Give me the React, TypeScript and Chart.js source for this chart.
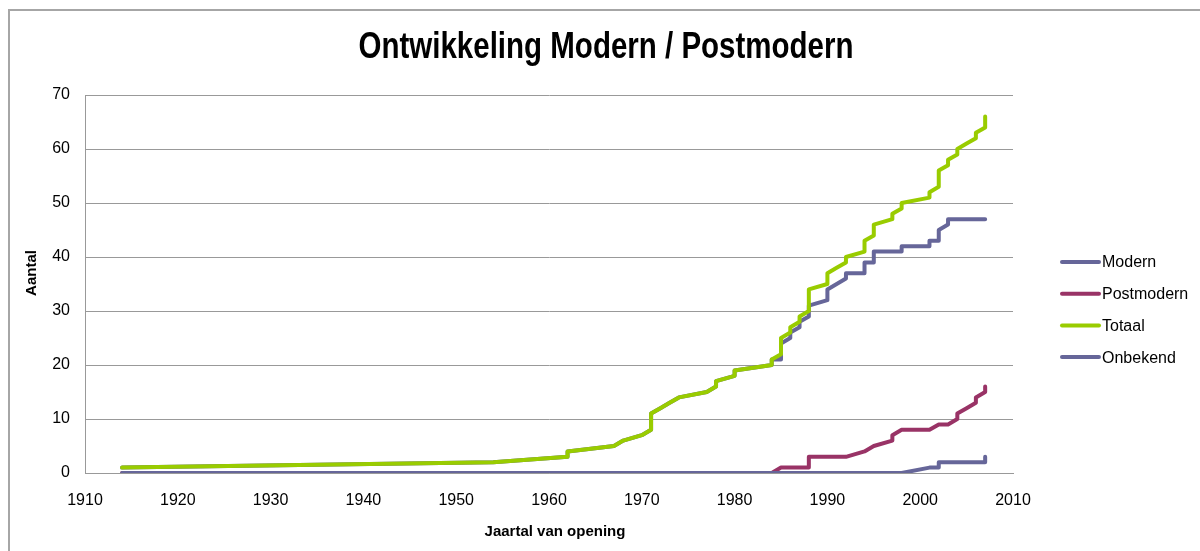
import React, { useEffect, useRef } from "react";
import { Chart, registerables } from "chart.js";

Chart.register(...registerables);

// ---- Text ----
const chartTitle = "Ontwikkeling Modern / Postmodern";
const xAxisTitle = "Jaartal van opening";
const yAxisTitle = "Aantal";

// ---- Series ----
const seriesNames = ["Modern", "Postmodern", "Totaal", "Onbekend"];
const seriesColors = ["#666699", "#993366", "#99CC00", "#666699"];

// Year of opening of each building (sorted), one entry per building
const openingYears = [
  1914, 1954, 1962, 1962, 1967, 1968, 1970, 1971, 1971, 1971, 1971, 1972, 1973,
  1974, 1977, 1978, 1978, 1980, 1980, 1984, 1984, 1985, 1985, 1985, 1985, 1986,
  1986, 1987, 1987, 1988, 1988, 1988, 1988, 1988, 1990, 1990, 1990, 1991, 1992,
  1992, 1994, 1994, 1994, 1995, 1995, 1995, 1997, 1997, 1998, 1998, 2001, 2001,
  2002, 2002, 2002, 2002, 2003, 2003, 2004, 2004, 2005, 2006, 2006, 2007, 2007,
  2007,
];

// Cumulative counts per category at each entry
const modern = [
  1, 2, 3, 4, 5, 6, 7, 8, 9, 10, 11, 12, 13, 14, 15, 16, 17, 18, 19, 20, 21, 21,
  22, 23, 24, 25, 26, 27, 28, 29, 30, 31, 31, 31, 32, 33, 34, 35, 36, 37, 37, 38,
  39, 39, 40, 41, 41, 41, 41, 42, 42, 43, 43, 43, 44, 45, 46, 47, 47, 47, 47, 47,
  47, 47, 47, 47,
];
const postmodern = [
  0, 0, 0, 0, 0, 0, 0, 0, 0, 0, 0, 0, 0, 0, 0, 0, 0, 0, 0, 0, 0, 1, 1, 1, 1, 1,
  1, 1, 1, 1, 1, 1, 2, 3, 3, 3, 3, 3, 3, 3, 4, 4, 4, 5, 5, 5, 6, 7, 8, 8, 8, 8, 9,
  9, 9, 9, 9, 9, 10, 11, 12, 13, 14, 15, 16, 16,
];
const totaal = [
  1, 2, 3, 4, 5, 6, 7, 8, 9, 10, 11, 12, 13, 14, 15, 16, 17, 18, 19, 20, 21, 22,
  23, 24, 25, 26, 27, 28, 29, 30, 31, 32, 33, 34, 35, 36, 37, 38, 39, 40, 41, 42,
  43, 44, 45, 46, 47, 48, 49, 50, 51, 52, 53, 54, 55, 56, 57, 58, 59, 60, 61, 62,
  63, 64, 65, 66,
];
const onbekend = [
  0, 0, 0, 0, 0, 0, 0, 0, 0, 0, 0, 0, 0, 0, 0, 0, 0, 0, 0, 0, 0, 0, 0, 0, 0, 0,
  0, 0, 0, 0, 0, 0, 0, 0, 0, 0, 0, 0, 0, 0, 0, 0, 0, 0, 0, 0, 0, 0, 0, 0, 1, 1, 1,
  2, 2, 2, 2, 2, 2, 2, 2, 2, 2, 2, 2, 3,
];

// ---- Axis ticks ----
const xTickValues = [1910, 1920, 1930, 1940, 1950, 1960, 1970, 1980, 1990, 2000, 2010];
const yTickValues = [0, 10, 20, 30, 40, 50, 60, 70];

const FONT = '"Liberation Sans", Arial, sans-serif';

const decorPlugin = {
  id: "decor",
  beforeDraw(chart: any) {
    const ctx = chart.ctx as CanvasRenderingContext2D;
    ctx.save();
    ctx.fillStyle = "#a6a6a6";
    ctx.fillRect(8, 9, 1192, 2);
    ctx.fillRect(8, 9, 2, 542);
    ctx.restore();
  },
  afterDraw(chart: any) {
    const ctx = chart.ctx as CanvasRenderingContext2D;
    // Title (condensed bold)
    ctx.save();
    ctx.font = `bold 36px ${FONT}`;
    const w = ctx.measureText(chartTitle).width;
    ctx.translate(606, 58);
    ctx.scale(495 / w, 1);
    ctx.fillStyle = "#000";
    ctx.textAlign = "center";
    ctx.textBaseline = "alphabetic";
    ctx.fillText(chartTitle, 0, 0);
    ctx.restore();

    // Y axis title
    ctx.save();
    ctx.font = `bold 15px ${FONT}`;
    ctx.fillStyle = "#000";
    ctx.translate(32, 273);
    ctx.rotate(-Math.PI / 2);
    ctx.textAlign = "center";
    ctx.textBaseline = "middle";
    ctx.fillText(yAxisTitle, 0, 0);
    ctx.restore();

    // X axis title
    ctx.save();
    ctx.font = `bold 15px ${FONT}`;
    ctx.fillStyle = "#000";
    ctx.textAlign = "center";
    ctx.textBaseline = "middle";
    ctx.fillText(xAxisTitle, 555, 532);
    ctx.restore();

    // Legend
    ctx.save();
    chart.data.datasets.forEach((ds: any, i: number) => {
      const y = 262 + i * 31.7;
      ctx.strokeStyle = ds.borderColor;
      ctx.lineWidth = 4;
      ctx.lineCap = "round";
      ctx.beginPath();
      ctx.moveTo(1062, y);
      ctx.lineTo(1099, y);
      ctx.stroke();
      ctx.fillStyle = "#000";
      ctx.font = `16px ${FONT}`;
      ctx.textAlign = "left";
      ctx.textBaseline = "middle";
      ctx.fillText(ds.label, 1102, y + 1);
    });
    ctx.restore();
  },
};

export default function App() {
  const canvasRef = useRef<HTMLCanvasElement | null>(null);

  useEffect(() => {
    if (!canvasRef.current) return;
    const seriesValues = [modern, postmodern, totaal, onbekend];
    const drawOrder = [4, 3, 2, 1];
    const datasets = seriesNames.map((name, si) => ({
      label: name,
      data: openingYears.map((yr, i) => ({ x: yr, y: seriesValues[si][i] })),
      borderColor: seriesColors[si],
      backgroundColor: seriesColors[si],
      borderWidth: 4,
      pointRadius: 0,
      pointHoverRadius: 0,
      tension: 0,
      fill: false,
      borderCapStyle: "round" as const,
      borderJoinStyle: "round" as const,
      order: drawOrder[si],
    }));

    const chart = new Chart(canvasRef.current, {
      type: "line",
      data: { datasets },
      options: {
        responsive: false,
        animation: false,
        events: [],
        layout: { padding: { left: 0, right: 187, top: 95, bottom: 0 } },
        plugins: {
          legend: { display: false },
          title: { display: false },
          tooltip: { enabled: false },
        },
        scales: {
          x: {
            type: "linear",
            min: xTickValues[0],
            max: xTickValues[xTickValues.length - 1],
            afterBuildTicks: (scale: any) => {
              scale.ticks = xTickValues.map((v) => ({ value: v }));
            },
            ticks: {
              color: "#000",
              padding: 18,
              maxRotation: 0,
              autoSkip: false,
              font: { family: FONT, size: 16 },
              callback: (v: any) => String(v),
            },
            grid: { display: false, drawTicks: false },
            border: { display: true, color: "#999999", width: 1 },
            afterFit: (scale: any) => {
              scale.height = 78;
            },
          },
          y: {
            type: "linear",
            min: yTickValues[0],
            max: yTickValues[yTickValues.length - 1],
            afterBuildTicks: (scale: any) => {
              scale.ticks = yTickValues.map((v) => ({ value: v }));
            },
            ticks: {
              color: "#000",
              padding: 15,
              font: { family: FONT, size: 16 },
              callback: (v: any) => String(v),
            },
            grid: { color: "#999999", lineWidth: 1, drawTicks: false },
            border: { display: true, color: "#999999", width: 1 },
            afterFit: (scale: any) => {
              scale.width = 85;
            },
          },
        },
      },
      plugins: [decorPlugin],
    });
    return () => chart.destroy();
  }, []);

  return (
    <div style={{ position: "absolute", left: 0, top: 0, width: 1200, height: 551, background: "#fff" }}>
      <canvas ref={canvasRef} width={1200} height={551} style={{ display: "block" }} />
    </div>
  );
}
